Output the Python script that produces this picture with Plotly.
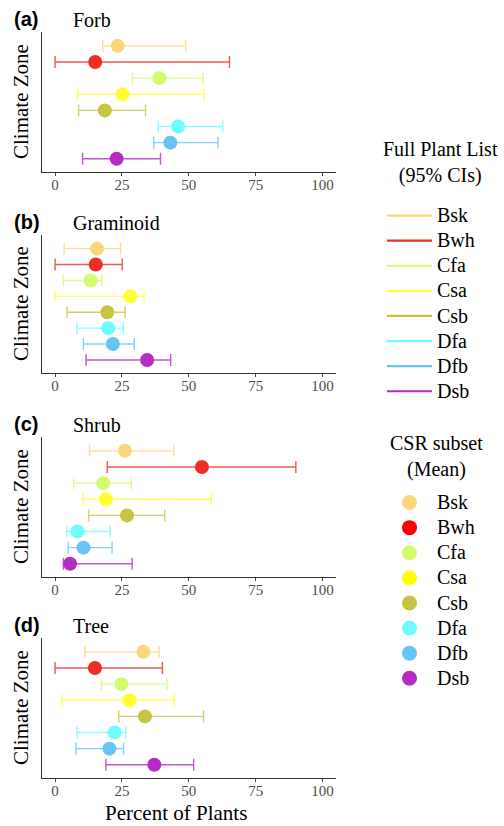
import plotly.graph_objects as go

# ---------------- data ----------------
zones = ["Bsk", "Bwh", "Cfa", "Csa", "Csb", "Dfa", "Dfb", "Dsb"]
zone_colors = ["#FBD67A", "#EE2E24", "#D4FB6D", "#FFFF33", "#C8C443", "#70FCFB", "#66C5F5", "#B62BC2"]
legend_point_colors = ["#FBD67A", "#FF0000", "#D4FB6D", "#FFFF00", "#C8C443", "#70FCFB", "#66C5F5", "#B62BC2"]

panel_tags = ["(a)", "(b)", "(c)", "(d)"]
panel_titles = ["Forb", "Graminoid", "Shrub", "Tree"]

forb_mean = [23.4, 15.0, 39.0, 25.2, 18.6, 46.0, 43.1, 23.0]
forb_lo = [17.8, 0.0, 28.9, 8.4, 8.8, 38.6, 36.9, 10.3]
forb_hi = [48.8, 65.2, 55.3, 55.7, 33.8, 62.7, 60.9, 39.4]

gram_mean = [15.7, 15.2, 13.3, 28.1, 19.5, 19.9, 21.6, 34.4]
gram_lo = [3.4, 0.0, 3.1, 0.0, 4.5, 8.2, 10.6, 11.6]
gram_hi = [24.5, 25.1, 17.5, 33.3, 26.2, 25.5, 29.6, 43.2]

shrub_mean = [26.1, 54.9, 18.0, 19.0, 26.9, 8.4, 10.6, 5.6]
shrub_lo = [12.9, 19.5, 7.0, 10.5, 12.6, 4.4, 4.9, 3.1]
shrub_hi = [44.4, 90.0, 28.5, 58.4, 41.0, 20.6, 21.3, 28.8]

tree_mean = [33.0, 14.9, 24.8, 27.8, 33.6, 22.2, 20.3, 37.1]
tree_lo = [11.1, 0.0, 17.3, 2.6, 23.8, 8.2, 7.8, 19.0]
tree_hi = [38.9, 40.1, 41.8, 44.6, 55.5, 26.4, 25.6, 51.8]

panel_means = [forb_mean, gram_mean, shrub_mean, tree_mean]
panel_los = [forb_lo, gram_lo, shrub_lo, tree_lo]
panel_his = [forb_hi, gram_hi, shrub_hi, tree_hi]

x_ticks = [0, 25, 50, 75, 100]

legend1_title = "Full Plant List<br>(95% CIs)"
legend2_title = "CSR subset<br>(Mean)"
x_title = "Percent of Plants"
y_title = "Climate Zone"

# ---------------- layout geometry (pixels) ----------------
W, H = 504, 826
panel_px = [(32, 172), (235, 373), (437, 577), (638, 778)]  # top, bottom
x_left_px, x_right_px = 41.7, 336.0


def hex_rgba(h, a):
    h = h.lstrip("#")
    return "rgba(%d,%d,%d,%.2f)" % (int(h[0:2], 16), int(h[2:4], 16), int(h[4:6], 16), a)


def big(name):
    return '<span style="font-size:20px">%s</span>' % name


SERIF = "Liberation Serif"
fig = go.Figure()

n = len(zones)
for p in range(4):
    ax = "" if p == 0 else str(p + 1)
    for i, z in enumerate(zones):
        ypos = n - i
        m = panel_means[p][i]
        lo = panel_los[p][i]
        hi = panel_his[p][i]
        fig.add_trace(go.Scatter(
            x=[m], y=[ypos], mode="lines",
            line=dict(color=zone_colors[i], width=2.2),
            error_x=dict(type="data", symmetric=False, array=[hi - m], arrayminus=[m - lo],
                         color=hex_rgba(zone_colors[i], 0.8), thickness=1.4, width=6),
            name=big(z), legend="legend", legendgroup="ci_" + z,
            showlegend=(p == 0),
            xaxis="x" + ax, yaxis="y" + ax, hoverinfo="skip",
        ))
    for i, z in enumerate(zones):
        ypos = n - i
        fig.add_trace(go.Scatter(
            x=[panel_means[p][i]], y=[ypos], mode="markers",
            marker=dict(color=zone_colors[i], size=14, line=dict(width=0)),
            name=z, legend="legend2", legendgroup="m_" + z,
            showlegend=False,
            xaxis="x" + ax, yaxis="y" + ax,
        ))

for i, z in enumerate(zones):
    fig.add_trace(go.Scatter(
        x=[None], y=[None], mode="markers",
        marker=dict(color=legend_point_colors[i], size=15, line=dict(width=0)),
        name=big(z), legend="legend2", showlegend=True, xaxis="x", yaxis="y",
    ))

layout = dict(
    width=W, height=H,
    margin=dict(l=0, r=0, t=0, b=0),
    plot_bgcolor="white", paper_bgcolor="white",
    font=dict(family=SERIF, color="black", size=20),
    showlegend=True,
    legend=dict(
        x=382 / W, y=1 - 198 / H, xanchor="left", yanchor="top",
        font=dict(family=SERIF, size=17, color="black"),
        bgcolor="rgba(0,0,0,0)", itemwidth=45, tracegroupgap=0,
    ),
    legend2=dict(
        x=382 / W, y=1 - 485 / H, xanchor="left", yanchor="top",
        font=dict(family=SERIF, size=17, color="black"),
        bgcolor="rgba(0,0,0,0)", itemwidth=45, tracegroupgap=0,
    ),
    annotations=[
        dict(text=legend1_title, x=440 / W, y=1 - 163 / H, xref="paper", yref="paper",
             xanchor="center", yanchor="middle", showarrow=False, align="center",
             font=dict(family=SERIF, size=20, color="black")),
        dict(text=legend2_title, x=436 / W, y=1 - 456.5 / H, xref="paper", yref="paper",
             xanchor="center", yanchor="middle", showarrow=False, align="center",
             font=dict(family=SERIF, size=20, color="black")),
    ],
)

for p in range(4):
    key = "" if p == 0 else str(p + 1)
    top, bot = panel_px[p]
    ydom = [1 - bot / H, 1 - top / H]
    layout["xaxis" + key] = dict(
        domain=[x_left_px / W, x_right_px / W], anchor="y" + key,
        range=[-5, 105], tickvals=x_ticks, ticktext=[str(t) for t in x_ticks],
        showline=True, linecolor="#333333", linewidth=1.2,
        ticks="outside", ticklen=3, tickcolor="#444444", tickwidth=1,
        ticklabelstandoff=-4,
        showgrid=False, zeroline=False,
        tickfont=dict(family=SERIF, size=15, color="#4D4D4D"),
    )
    layout["yaxis" + key] = dict(
        domain=ydom, anchor="x" + key,
        range=[0.18, 8.86], showticklabels=False, ticks="",
        showline=True, linecolor="#333333", linewidth=1.2,
        showgrid=False, zeroline=False,
    )
    layout["annotations"].append(dict(
        text="<b>%s</b>" % panel_tags[p], x=12 / W, y=1 - (top - 13) / H,
        xref="paper", yref="paper", xanchor="left", yanchor="middle", showarrow=False,
        font=dict(family="Liberation Sans", size=20, color="black"),
    ))
    layout["annotations"].append(dict(
        text=panel_titles[p], x=71 / W, y=1 - (top - 12) / H,
        xref="paper", yref="paper", xanchor="left", yanchor="middle", showarrow=False,
        font=dict(family=SERIF, size=20, color="black"),
    ))
    layout["annotations"].append(dict(
        text=y_title, x=21 / W, y=1 - ((top + bot) / 2) / H, textangle=-90,
        xref="paper", yref="paper", xanchor="center", yanchor="middle", showarrow=False,
        font=dict(family=SERIF, size=21, color="black"),
    ))

layout["annotations"].append(dict(
    text=x_title, x=176 / W, y=1 - 813 / H,
    xref="paper", yref="paper", xanchor="center", yanchor="middle", showarrow=False,
    font=dict(family=SERIF, size=21, color="black"),
))

fig.update_layout(**layout)
fig.write_html("out.html")
